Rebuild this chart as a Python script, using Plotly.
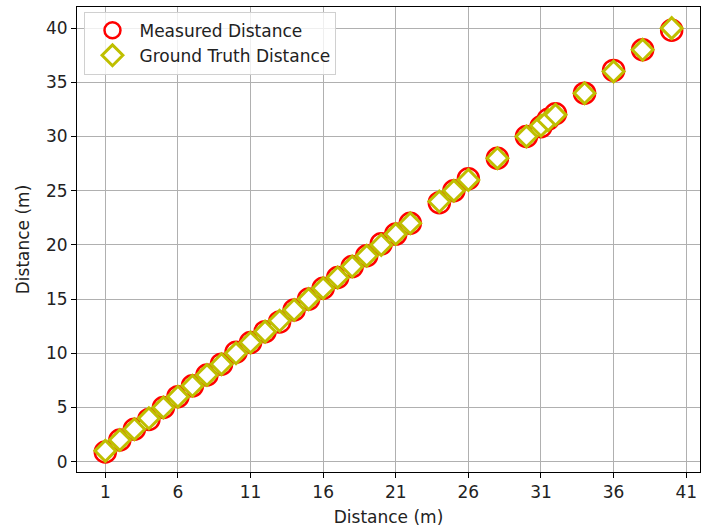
import plotly.graph_objects as go

# Ground-truth target distances (m)
truth_x = [1, 2, 3, 4, 5, 6, 7, 8, 9, 10, 11, 12, 13, 14, 15, 16, 17, 18, 19, 20,
           21, 22, 24, 25, 26, 28, 30, 31, 31.5, 32, 34, 36, 38, 40]
truth_y = list(truth_x)
# Measured distances (m)
measured_y = [0.9, 2.0, 3.0, 3.9, 5.0, 6.0, 7.0, 8.0, 9.0, 10.1, 11.0, 12.0, 12.9, 14.0,
              15.0, 16.0, 17.0, 18.0, 19.0, 20.1, 21.0, 22.0, 23.9, 25.0, 26.1, 28.0,
              30.0, 30.9, 31.6, 32.1, 34.0, 36.1, 38.0, 39.8]

x_ticks = [1, 6, 11, 16, 21, 26, 31, 36, 41]
y_ticks = [0, 5, 10, 15, 20, 25, 30, 35, 40]

font = dict(family="DejaVu Sans", size=17, color="#222")

fig = go.Figure()
fig.add_trace(go.Scatter(
    x=truth_x, y=measured_y, mode="markers", name="Measured Distance",
    marker=dict(symbol="circle", size=21, color="white",
                line=dict(color="#ff0000", width=2.5)),
))
fig.add_trace(go.Scatter(
    x=truth_x, y=truth_y, mode="markers", name="Ground Truth Distance",
    marker=dict(symbol="diamond", size=16, color="white",
                line=dict(color="#bfbf00", width=3)),
))

axis_common = dict(
    showgrid=True, gridcolor="#b0b0b0", gridwidth=1,
    showline=True, linecolor="black", linewidth=1, mirror=True,
    ticks="outside", ticklen=5, tickcolor="black", tickwidth=1,
    zeroline=False, tickfont=font,
)
fig.update_xaxes(range=[-0.95, 41.95], tickvals=x_ticks,
                 title=dict(text="Distance (m)", font=font, standoff=9),
                 **axis_common)
fig.update_yaxes(range=[-0.95, 41.95], tickvals=y_ticks,
                 title=dict(text="Distance (m)", font=font, standoff=12),
                 **axis_common)

fig.update_layout(
    width=701, height=531,
    margin=dict(l=77, r=1, t=7, b=59),
    plot_bgcolor="white", paper_bgcolor="white",
    font=font,
    showlegend=True,
    legend=dict(x=0.012, y=0.99, xanchor="left", yanchor="top",
                bgcolor="rgba(255,255,255,0.8)", bordercolor="#d0d0d0",
                borderwidth=1, font=font, tracegroupgap=0,
                itemsizing="trace", itemwidth=44),
)

fig.write_html("out.html")
